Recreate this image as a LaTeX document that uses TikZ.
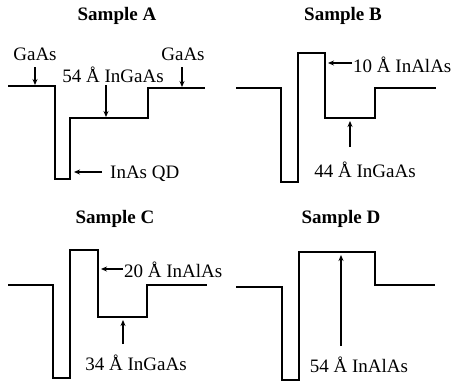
\documentclass[tikz,border=0pt]{standalone}
\usepackage{fontspec}
\setmainfont{Liberation Serif}
\usetikzlibrary{arrows.meta}
\begin{document}
\begin{tikzpicture}[x=1pt,y=-1pt,
  band/.style={line width=2.5pt,line join=miter},
  pointer/.style={line width=1.1pt,-{Stealth[length=6pt,width=5pt]}},
  title/.style={font=\fontsize{19}{22}\selectfont\bfseries,anchor=base,inner sep=0pt},
  lbl/.style={font=\fontsize{19}{22}\selectfont,anchor=base,inner sep=0pt},
  lblw/.style={lbl,anchor=base west}]
\useasboundingbox (0,0) rectangle (457,383);

% ---- Sample A ----
\node[title] (tA) at (117,20) {Sample A};
\draw[band] (8,86) -- (55,86) -- (55,179) -- (70,179) -- (70,118)
  -- (148,118) -- (148,88) -- (205,88);
\node[lbl] (gaL) at (35,60) {GaAs};
\node[lbl] (ingaA) at (113,82) {54 Å InGaAs};
\node[lbl] (gaR) at (183,60) {GaAs};
\node[lblw] (qd) at (110,178) {InAs QD};
\coordinate (gaLt) at (35,85);
\coordinate (ingaAt) at (106,117);
\coordinate (gaRt) at (182,87);
\coordinate (qdt) at (74,172);
\coordinate (qds) at (102,172);
\draw[pointer] (gaL.south |- 0,67) -- (gaLt);
\draw[pointer] (106,85) -- (ingaAt);
\draw[pointer] (182,67) -- (gaRt);
\draw[pointer] (qds) -- (qdt);

% ---- Sample B ----
\node[title] (tB) at (343,20) {Sample B};
\draw[band] (236,88) -- (281,88) -- (281,182) -- (298,182) -- (298,53)
  -- (325,53) -- (325,118) -- (375,118) -- (375,88) -- (436,88);
\node[lblw] (alB) at (353,72) {10 Å InAlAs};
\node[lbl] (ingaB) at (365,177) {44 Å InGaAs};
\coordinate (alBt) at (328,63);
\coordinate (ingaBt) at (350,121);
\draw[pointer] (352,63) -- (alBt);
\draw[pointer] (350,147) -- (ingaBt);

% ---- Sample C ----
\node[title] (tC) at (115,223) {Sample C};
\draw[band] (8,285) -- (53,285) -- (53,378) -- (70,378) -- (70,250)
  -- (98,250) -- (98,317) -- (147,317) -- (147,285) -- (207,285);
\node[lblw] (alC) at (124,277) {20 Å InAlAs};
\node[lbl] (ingaC) at (136,370) {34 Å InGaAs};
\coordinate (alCt) at (101,269);
\coordinate (ingaCt) at (123,320);
\draw[pointer] (123,269) -- (alCt);
\draw[pointer] (123,344) -- (ingaCt);

% ---- Sample D ----
\node[title] (tD) at (341,223) {Sample D};
\draw[band] (236,287) -- (282,287) -- (282,380) -- (299,380) -- (299,252)
  -- (375,252) -- (375,285) -- (435,285);
\node[lbl] (alD) at (359,372) {54 Å InAlAs};
\coordinate (alDt) at (341,255);
\draw[pointer] (341,346) -- (alDt);
\end{tikzpicture}
\end{document}
